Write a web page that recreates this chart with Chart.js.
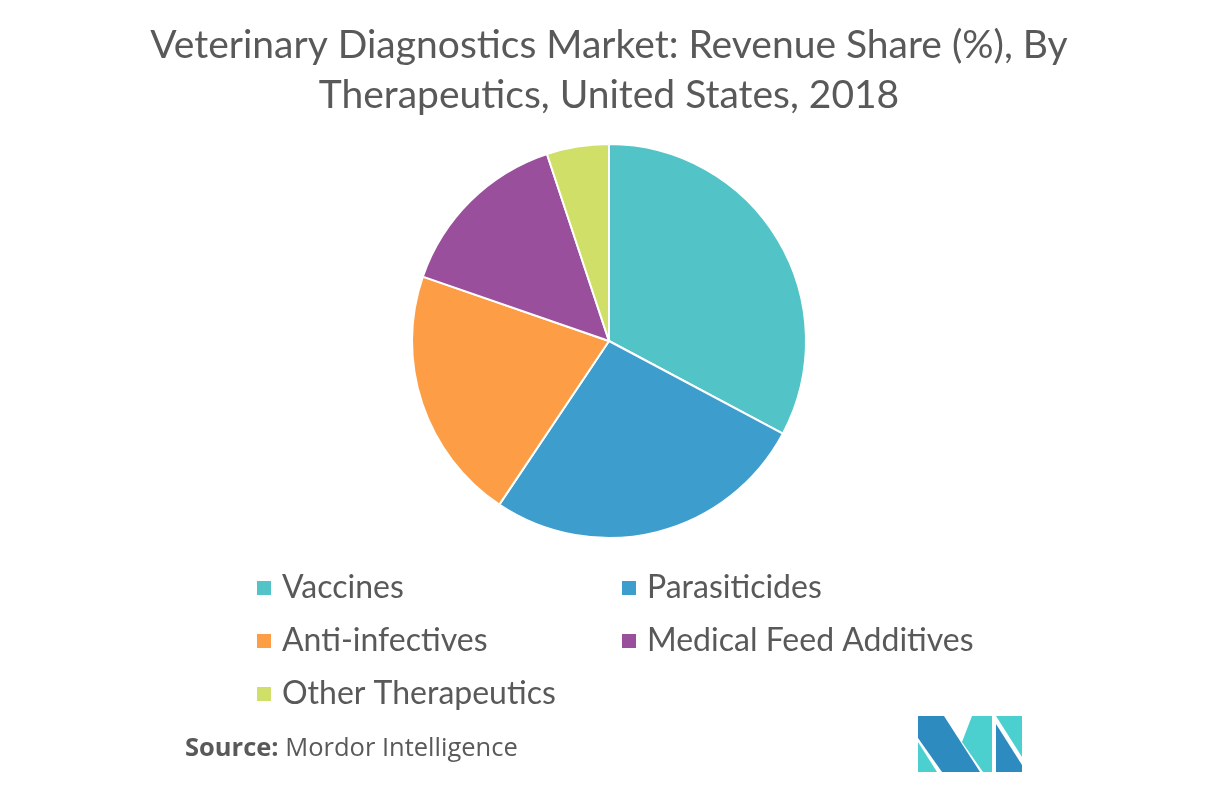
<!DOCTYPE html>
<html>
<head>
<meta charset="utf-8">
<script src="https://cdn.jsdelivr.net/npm/chart.js@4.4.0/dist/chart.umd.min.js"></script>
<style>
    html, body { margin: 0; padding: 0; background: #fff; }
    #chart { display: block; }
</style>
</head>
<body>
<canvas id="chart" width="1218" height="785"></canvas>
<script>
var titleLines = ['Veterinary Diagnostics Market: Revenue Share (%), By', 'Therapeutics, United States, 2018'];
var categories = ['Vaccines', 'Parasiticides', 'Anti-infectives', 'Medical Feed Additives', 'Other Therapeutics'];
var shares = [32.8, 26.6, 20.9, 14.6, 5.1];
var colours = ['#52c3c6', '#3d9dcd', '#fd9e46', '#9a4f9d', '#cfdf67'];

var textColour = '#595959';

// title, two-column legend, source line and logo drawn straight onto the canvas
var decorPlugin = {
    id: 'decor',
    afterDraw: function (chart) {
        var ctx = chart.ctx;
        ctx.save();

        ctx.fillStyle = textColour;
        ctx.textAlign = 'center';
        ctx.textBaseline = 'middle';
        ctx.font = '39px Lato';
        ctx.fillText(titleLines[0], 609, 45);
        ctx.fillText(titleLines[1], 609, 95);

        // legend
        var cols = [257, 622];
        var rows = [588, 641, 694];
        var meta = chart.getDatasetMeta(0);
        ctx.textAlign = 'left';
        ctx.font = '32px Lato';
        chart.data.labels.forEach(function (label, i) {
            var x = cols[i % 2], y = rows[Math.floor(i / 2)];
            ctx.fillStyle = meta.data[i].options.backgroundColor;
            ctx.fillRect(x, y - 7, 14, 14);
            ctx.fillStyle = textColour;
            ctx.fillText(label, x + 25, y);
        });

        // source
        ctx.font = 'bold 25.5px "Open Sans"';
        ctx.fillStyle = textColour;
        ctx.fillText('Source:', 185, 749);
        var w = ctx.measureText('Source: ').width;
        ctx.font = '25.5px "Open Sans"';
        ctx.fillText('Mordor Intelligence', 185 + w, 749);

        // logo
        var dark = '#2e8bbf', light = '#4ccfcf';
        function poly(pts, col) {
            ctx.fillStyle = col;
            ctx.beginPath();
            ctx.moveTo(pts[0][0], pts[0][1]);
            for (var k = 1; k < pts.length; k++) ctx.lineTo(pts[k][0], pts[k][1]);
            ctx.closePath();
            ctx.fill();
        }
        poly([[918, 716], [944, 716], [980, 772], [942, 772], [918, 738]], dark);
        poly([[918, 742], [918, 772], [937, 772]], light);
        poly([[962, 742], [972, 716], [992, 716], [992, 772], [983, 772]], light);
        poly([[996, 716], [1022, 716], [1022, 757]], light);
        poly([[996, 724], [1022, 765], [1022, 772], [996, 772]], dark);

        ctx.restore();
    }
};

var chart = new Chart(document.getElementById('chart'), {
    type: 'pie',
    data: {
        labels: categories,
        datasets: [{
            data: shares,
            backgroundColor: colours,
            borderColor: '#ffffff',
            borderWidth: 2
        }]
    },
    options: {
        responsive: false,
        animation: false,
        layout: {
            padding: { top: 143, bottom: 246, left: 411, right: 411 }
        },
        plugins: {
            legend: { display: false },
            title: { display: false },
            tooltip: { enabled: false }
        }
    },
    plugins: [decorPlugin]
});
</script>
</body>
</html>
